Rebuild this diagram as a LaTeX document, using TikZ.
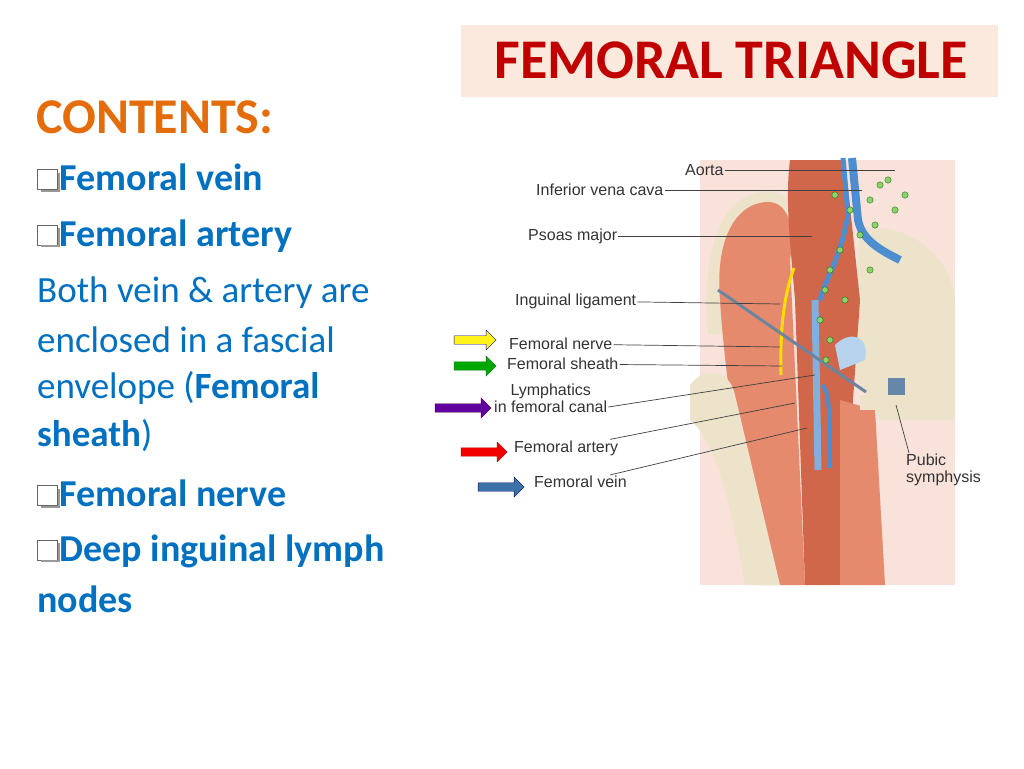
\documentclass[tikz,border=0pt]{standalone}
\usepackage{fontspec}
\setmainfont{Carlito}
\newfontfamily\labelfont{Liberation Sans}
\usetikzlibrary{shapes.arrows,calc}
\definecolor{titlered}{HTML}{C00000}
\definecolor{titlebg}{HTML}{FBE9DD}
\definecolor{contorange}{HTML}{E46C0A}
\definecolor{textblue}{HTML}{0070C0}
\definecolor{muscle}{HTML}{E58A6C}
\definecolor{muscledark}{HTML}{D0674A}
\definecolor{bone}{HTML}{EDE3CB}
\definecolor{vessel}{HTML}{4C8ED0}
\definecolor{lymph}{HTML}{8FD16A}
\tikzstyle{item} = [anchor=west, text=textblue, font=\fontsize{38}{42}\selectfont\bfseries, inner sep=0pt]
\tikzstyle{plain} = [anchor=west, text=textblue, font=\fontsize{37}{42}\selectfont, inner sep=0pt]
\tikzstyle{lbl} = [font=\labelfont\fontsize{16}{17}\selectfont, text=black!80, inner sep=1pt, align=left]
\tikzstyle{leader} = [draw, black!75, line width=0.7pt]
\tikzstyle{pointer} = [single arrow, draw=black!70, minimum height=42pt, minimum width=20pt, single arrow head extend=3pt, inner sep=2pt]
\newcommand{\bulletbox}{\tikz[baseline=-1pt]{\draw[black!60, fill=white, line width=0.9pt] (0,0) rectangle (20pt,20pt); \draw[black!40, line width=2pt] (3pt,-1pt) -- (21pt,-1pt) -- (21pt,17pt);}}

\begin{document}
\begin{tikzpicture}[x=1pt, y=-1pt]
        \useasboundingbox (0,0) rectangle (1024,768);
        \fill[white] (0,0) rectangle (1024,768);
        % title
        \node[fill=titlebg, minimum width=537pt, minimum height=72pt, inner sep=0pt] (title) at (729,61) {};
        \node[text=titlered, font=\fontsize{56}{60}\selectfont\bfseries] (titletext) at (731,60) {FEMORAL TRIANGLE};
        % contents list
        \node[anchor=west, text=contorange, font=\fontsize{50}{54}\selectfont\bfseries, inner sep=0pt] (contents) at (36,117) {CONTENTS:};
        \node[item] (vein) at (37,178) {\bulletbox Femoral vein};
        \node[item] (artery) at (37,236) {\bulletbox Femoral artery};
        \node[plain] (both1) at (37,293) {Both vein \& artery are};
        \node[plain] (both2) at (37,340) {enclosed in a fascial};
        \node[plain] (both3) at (37,388) {envelope (\textbf{Femoral}};
        \node[plain] (both4) at (37,436) {\textbf{sheath})};
        \node[item] (nerve) at (37,494) {\bulletbox Femoral nerve};
        \node[item] (nodes1) at (37,551) {\bulletbox Deep inguinal lymph};
        \node[item] (nodes2) at (37,599) {nodes};
        % anatomy
        \fill[muscle!25] (700,160) rectangle (955,585);
        \fill[bone] (860,230) .. controls (900,220) and (950,250) .. (955,300) -- (955,420) -- (880,420) .. controls (870,400) and (855,380) .. (850,360) -- cycle;
        \fill[bone] (708,335) .. controls (702,260) and (715,200) .. (760,192) .. controls (790,188) and (805,210) .. (795,250) -- (770,330) -- cycle;
        \fill[muscle] (720,300) .. controls (715,240) and (735,205) .. (765,202) .. controls (790,200) and (795,230) .. (790,260) -- (805,585) -- (760,585) .. controls (740,470) and (725,380) .. (720,300);
        \fill[muscledark] (790,160) -- (845,160) -- (860,300) -- (840,585) -- (805,585) -- (795,300) .. controls (790,240) and (785,200) .. (790,160);
        \fill[muscle] (840,400) -- (875,410) -- (885,585) -- (840,585) -- cycle;
        \fill[bone] (690,385) .. controls (705,365) and (730,370) .. (735,395) -- (780,585) -- (745,585) .. controls (730,500) and (715,440) .. (690,420) -- cycle;
        \fill[vessel!50!gray] (888,378) rectangle (905,405);
        \fill[bone] (860,395) rectangle (935,410);
        \fill[vessel!40!white] (835,345) .. controls (850,330) and (870,335) .. (865,360) -- (840,370) -- cycle;
        \draw[vessel, line width=8pt] (852,158) -- (858,220) .. controls (862,240) and (880,250) .. (900,260);
        \draw[vessel, line width=5pt] (843,158) -- (848,215) .. controls (840,260) and (825,280) .. (820,300);
        \draw[vessel!70!white, line width=7pt] (815,300) -- (818,470);
        \draw[vessel, line width=4pt] (822,385) .. controls (828,390) and (830,400) .. (830,468);
        \draw[yellow!80!orange, line width=3pt] (794,268) .. controls (782,300) and (780,340) .. (781,375);
        \draw[vessel!40!gray, line width=3pt] (718,290) -- (866,392);
        \foreach \px/\py in {835/195,850/210,870/200,880/185,860/235,840/250,830/270,825/290,875/225,895/210,905/195,820/320,830/340,826/360,845/300,870/270,888/180}
            \fill[lymph, draw=green!40!black, line width=0.3pt] (\px,\py) circle (3.2pt);
        % labels
        \node[lbl, anchor=west] (aorta) at (684,170) {Aorta};
        \node[lbl, anchor=west] (ivc) at (535,190) {Inferior vena cava};
        \node[lbl, anchor=west] (psoas) at (527,236) {Psoas major};
        \node[lbl, anchor=west] (inguinal) at (514,301) {Inguinal ligament};
        \node[lbl, anchor=west] (fnerve) at (508,344) {Femoral nerve};
        \node[lbl, anchor=west] (fsheath) at (506,364) {Femoral sheath};
        \node[lbl, anchor=west, align=center] (lymphatics) at (493,398) {Lymphatics\\in femoral canal};
        \node[lbl, anchor=west] (fartery) at (513,448) {Femoral artery};
        \node[lbl, anchor=west] (fvein) at (533,482) {Femoral vein};
        \node[lbl, anchor=north west] (pubic) at (905,453) {Pubic\\symphysis};
        \coordinate (aortaend) at (895,170);
        \coordinate (ivcend) at (862,190);
        \coordinate (psoasend) at (812,236);
        \coordinate (inguinalend) at (780,304);
        \coordinate (fnerveend) at (780,347);
        \coordinate (fsheathend) at (782,366);
        \coordinate (lymphend) at (815,375);
        \coordinate (arteryend) at (795,403);
        \coordinate (veinend) at (807,428);
        \coordinate (pubicend) at (896,405);
        \path[leader] (aorta) -- (aortaend);
        \path[leader] (ivc) -- (ivcend);
        \path[leader] (psoas) -- (psoasend);
        \path[leader] (inguinal) -- (inguinalend);
        \path[leader] (fnerve) -- (fnerveend);
        \path[leader] (fsheath) -- (fsheathend);
        \path[leader] (lymphatics.east |- 0,407) -- (lymphend);
        \path[leader] (fartery) -- (arteryend);
        \path[leader] (fvein) -- (veinend);
        \path[leader] (pubic.north west) ++(4,0) -- (pubicend);
        % colored pointers
        \node[pointer, fill=yellow!90!white, draw=blue!60!black] (ynerve) at (473,340) {};
        \node[pointer, fill=green!65!black, draw=green!50!black] (gsheath) at (473,366) {};
        \node[pointer, fill=violet!75!blue, draw=violet!60!black, minimum height=56pt] (plymph) at (461,408) {};
        \node[pointer, fill=red!95!black, draw=red!70!black, minimum height=46pt] (rartery) at (482,452) {};
        \node[pointer, fill=vessel!80!black, draw=blue!50!black, minimum height=46pt] (bvein) at (499,487) {};
    \end{tikzpicture}
\end{document}
